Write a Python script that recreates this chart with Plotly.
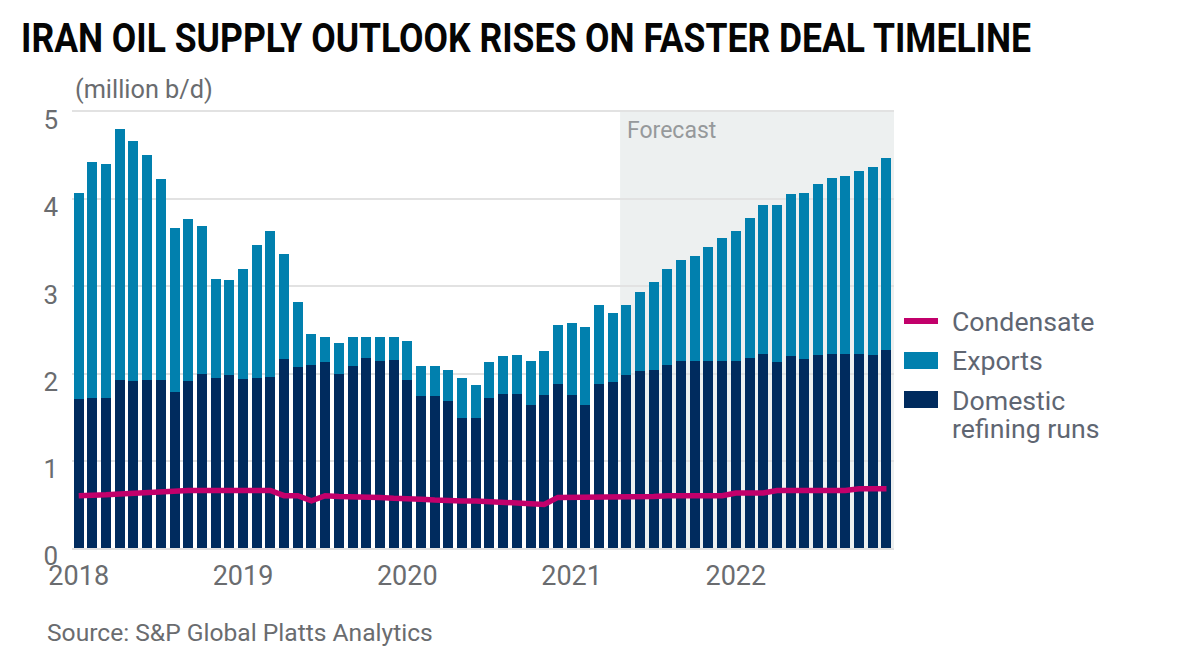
import plotly.graph_objects as go

months = list(range(60))
year_ticks = [0, 12, 24, 36, 48]
year_labels = ["2018", "2019", "2020", "2021", "2022"]
y_ticks = [0, 1, 2, 3, 4, 5]
forecast_start = 39.54

domestic = [1.71, 1.72, 1.72, 1.93, 1.91, 1.93, 1.93, 1.79, 1.91, 2.00, 1.95, 1.98,
            1.94, 1.95, 1.96, 2.17, 2.08, 2.10, 2.13, 1.99, 2.09, 2.18, 2.14, 2.16,
            1.93, 1.74, 1.74, 1.69, 1.49, 1.49, 1.72, 1.77, 1.77, 1.64, 1.76, 1.88,
            1.75, 1.64, 1.88, 1.90, 1.98, 2.03, 2.04, 2.10, 2.15, 2.15, 2.15, 2.15,
            2.14, 2.18, 2.23, 2.13, 2.20, 2.17, 2.21, 2.23, 2.22, 2.23, 2.21, 2.27]
exports = [2.36, 2.71, 2.68, 2.87, 2.76, 2.58, 2.30, 1.88, 1.86, 1.69, 1.13, 1.09,
           1.26, 1.53, 1.67, 1.20, 0.74, 0.35, 0.29, 0.36, 0.33, 0.24, 0.28, 0.26,
           0.44, 0.35, 0.35, 0.35, 0.46, 0.38, 0.41, 0.43, 0.44, 0.50, 0.50, 0.68,
           0.83, 0.90, 0.91, 0.80, 0.81, 0.91, 1.01, 1.10, 1.15, 1.20, 1.30, 1.40,
           1.50, 1.60, 1.70, 1.80, 1.86, 1.90, 1.96, 2.01, 2.05, 2.09, 2.16, 2.20]
condensate = [0.60, 0.60, 0.61, 0.62, 0.63, 0.64, 0.65, 0.66, 0.66, 0.66, 0.66, 0.66,
              0.66, 0.66, 0.66, 0.60, 0.60, 0.54, 0.60, 0.59, 0.59, 0.58, 0.58, 0.57,
              0.57, 0.56, 0.55, 0.54, 0.54, 0.54, 0.53, 0.53, 0.52, 0.51, 0.50, 0.58,
              0.58, 0.58, 0.58, 0.59, 0.59, 0.59, 0.59, 0.60, 0.60, 0.60, 0.60, 0.60,
              0.63, 0.63, 0.63, 0.66, 0.66, 0.66, 0.66, 0.66, 0.66, 0.68, 0.68, 0.68]

NAVY, BLUE, PINK = "#002B5E", "#0180AE", "#C2006B"
GREY = "#6A6C6F"
LEGEND_GREY = "#5F6672"
FONT = "Roboto"
L, R, T, B = 72, 894, 112, 548

def px(x):
    return (x - L) / (R - L)

def py(y):
    return (B - y) / (B - T)

fig = go.Figure()
fig.add_bar(x=months, y=domestic, name="Domestic refining runs", marker=dict(color=NAVY, line_width=0))
fig.add_bar(x=months, y=exports, name="Exports", marker=dict(color=BLUE, line_width=0))
fig.add_scatter(x=months, y=condensate, name="Condensate", mode="lines",
                line=dict(color=PINK, width=5.5))

def text(s, x, y, size, color=GREY, weight=None, vanchor="middle"):
    return dict(text=s, x=px(x), y=py(y), xref="paper", yref="paper", showarrow=False,
                xanchor="left", yanchor=vanchor, align="left", borderpad=0,
                font=dict(size=size, color=color, family=FONT, weight=weight))

annotations = [
    text("IRAN OIL SUPPLY OUTLOOK RISES ON FASTER DEAL TIMELINE", 20, 38, 40, "#050505", 700),
    text("(million b/d)", 74, 89, 25.3),
    text("Forecast", 626, 130, 23, "#96999B"),
    text("Source: S&P Global Platts Analytics", 46, 632, 24.6),
    text("Condensate", 951, 322, 26.7, LEGEND_GREY),
    text("Exports", 951, 361, 26.7, LEGEND_GREY),
    text("Domestic<br>refining runs", 951, 384, 26.7, LEGEND_GREY, vanchor="top"),
]

shapes = [
    dict(type="rect", xref="x", yref="y", x0=forecast_start, x1=59.55, y0=0, y1=5,
         layer="below", line_width=0, fillcolor="rgba(216,221,221,0.45)"),
    dict(type="line", xref="paper", yref="paper", x0=px(904), x1=px(938), y0=py(321), y1=py(321),
         line=dict(color=PINK, width=6)),
    dict(type="rect", xref="paper", yref="paper", x0=px(904), x1=px(938), y0=py(369), y1=py(352),
         fillcolor=BLUE, line_width=0),
    dict(type="rect", xref="paper", yref="paper", x0=px(904), x1=px(938), y0=py(408), y1=py(391),
         fillcolor=NAVY, line_width=0),
]

fig.update_layout(
    width=1178, height=655, autosize=False,
    margin=dict(l=L, r=1178 - R, t=T, b=655 - B),
    paper_bgcolor="white", plot_bgcolor="white",
    barmode="stack", bargap=0.27, showlegend=False,
    annotations=annotations, shapes=shapes,
    font=dict(family=FONT, color=GREY),
    xaxis=dict(range=[-0.49, 59.55], tickmode="array", tickvals=year_ticks, ticktext=year_labels,
               showgrid=False, zeroline=False, showline=True, mirror=True,
               linecolor="#E2E2E2", linewidth=2, ticks="",
               tickfont=dict(size=27, color=GREY, family=FONT), ticklabelstandoff=3),
    yaxis=dict(range=[0, 5], tickmode="array", tickvals=y_ticks, showgrid=True,
               gridcolor="#E2E2E2", gridwidth=2, zeroline=False, showline=False, ticks="",
               tickfont=dict(size=26, color=GREY, family=FONT),
               ticklabelstandoff=13, ticklabelshift=8),
)
post = """
document.body.style.margin = '0';
document.querySelectorAll('.annotation-text').forEach(function (t) {
  if (t.textContent.indexOf('IRAN') === 0) {
    t.setAttribute('textLength', '1010');
    t.setAttribute('lengthAdjust', 'spacingAndGlyphs');
  }
  var lines = t.querySelectorAll('tspan.line');
  if (lines.length === 2) { lines[1].setAttribute('dy', '1.05em'); }
});
"""
fig.write_html("out.html", post_script=post, config={"displayModeBar": False})
